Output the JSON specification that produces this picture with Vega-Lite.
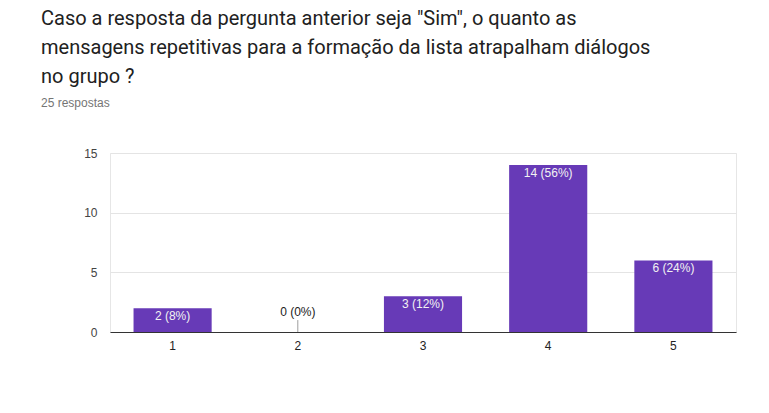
{
  "$schema": "https://vega.github.io/schema/vega-lite/v6.json",
  "width": 626,
  "height": 179,
  "autosize": {"type": "none"},
  "padding": {"left": 110, "top": 153, "right": 33, "bottom": 81},
  "background": "white",
  "title": {
    "text": ["Caso a resposta da pergunta anterior seja \"Sim\", o quanto as", "mensagens repetitivas para a formação da lista atrapalham diálogos", "no grupo ?"],
    "subtitle": "25 respostas",
    "anchor": "start",
    "frame": "group",
    "dx": -69,
    "font": "Roboto",
    "fontSize": 20,
    "fontWeight": "normal",
    "color": "#212121",
    "lineHeight": 29,
    "subtitleFont": "Liberation Sans",
    "subtitleFontSize": 12,
    "subtitleColor": "#757575",
    "subtitlePadding": 11,
    "offset": 38
  },
  "config": {
    "view": {"stroke": "#e6e6e6"},
    "font": "Liberation Sans"
  },
  "data": {
    "values": [
      {"resposta": "1", "count": 2, "label": "2 (8%)"},
      {"resposta": "2", "count": 0, "label": "0 (0%)"},
      {"resposta": "3", "count": 3, "label": "3 (12%)"},
      {"resposta": "4", "count": 14, "label": "14 (56%)"},
      {"resposta": "5", "count": 6, "label": "6 (24%)"}
    ]
  },
  "encoding": {
    "x": {
      "field": "resposta",
      "type": "nominal",
      "scale": {"paddingInner": 0.376, "paddingOuter": 0.188},
      "axis": {
        "title": null,
        "labelAngle": 0,
        "labelFont": "Liberation Sans",
        "labelFontSize": 12,
        "labelColor": "#222222",
        "domainColor": "#333333",
        "domainWidth": 1,
        "ticks": false,
        "labelPadding": 8
      }
    }
  },
  "layer": [
    {
      "mark": {"type": "bar", "color": "#673ab7"},
      "encoding": {
        "y": {
          "field": "count",
          "type": "quantitative",
          "scale": {"domain": [0, 15], "nice": false},
          "axis": {
            "title": null,
            "values": [0, 2.5, 5, 7.5, 10, 12.5, 15],
            "labelExpr": "datum.value % 5 === 0 ? datum.label : ''",
            "labelFont": "Liberation Sans",
            "labelFontSize": 12,
            "labelColor": "#444444",
            "domain": false,
            "ticks": false,
            "labelPadding": 13,
            "gridColor": {"condition": {"test": "datum.value % 5 === 0", "value": "#e4e4e4"}, "value": "#f3f3f3"}
          }
        }
      }
    },
    {
      "transform": [{"filter": "datum.count === 0"}],
      "mark": {"type": "rule", "color": "#9e9e9e", "strokeWidth": 1},
      "encoding": {
        "y": {"datum": 0},
        "y2": {"datum": 1}
      }
    },
    {
      "transform": [{"filter": "datum.count > 0"}],
      "mark": {"type": "text", "baseline": "top", "dy": 3, "color": "#f2f2f2", "font": "Liberation Sans", "fontSize": 12},
      "encoding": {
        "y": {"field": "count", "type": "quantitative"},
        "text": {"field": "label"}
      }
    },
    {
      "transform": [{"filter": "datum.count === 0"}],
      "mark": {"type": "text", "baseline": "bottom", "dy": -1, "color": "#222222", "font": "Liberation Sans", "fontSize": 12},
      "encoding": {
        "y": {"datum": 1},
        "text": {"field": "label"}
      }
    }
  ]
}
